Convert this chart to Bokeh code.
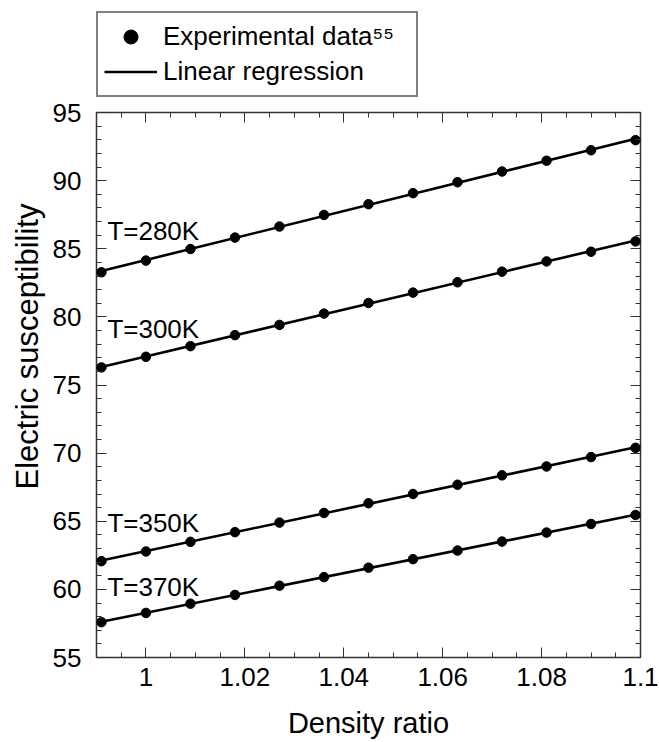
import numpy as np
from bokeh.plotting import figure
from bokeh.layouts import column
from bokeh.models import (ColumnDataSource, Legend, LegendItem, Label, LinearAxis, Title,
                          FixedTicker, CustomJSTickFormatter, Range1d)
from bokeh.embed import file_html
from bokeh.resources import INLINE

# ---- data ----
density_ratio = [0.991, 1.000, 1.009, 1.018, 1.027, 1.036, 1.045, 1.054, 1.063, 1.072, 1.081, 1.090, 1.099]
chi_280K = [83.27, 84.13, 84.98, 85.82, 86.63, 87.48, 88.27, 89.08, 89.88, 90.67, 91.46, 92.23, 92.97]
chi_300K = [76.29, 77.07, 77.85, 78.66, 79.41, 80.24, 81.02, 81.78, 82.54, 83.32, 84.07, 84.78, 85.54]
chi_350K = [62.07, 62.78, 63.49, 64.20, 64.90, 65.61, 66.32, 67.00, 67.68, 68.37, 69.02, 69.71, 70.39]
chi_370K = [57.59, 58.27, 58.95, 59.59, 60.27, 60.90, 61.59, 62.22, 62.85, 63.51, 64.17, 64.80, 65.46]
series_labels = ["T=280K", "T=300K", "T=350K", "T=370K"]
label_y = [86.3, 79.1, 64.9, 60.15]
label_x = 0.9922
x_ticks = [1.0, 1.02, 1.04, 1.06, 1.08, 1.1]
y_ticks = [55, 60, 65, 70, 75, 80, 85, 90, 95]

FONT = "Liberation Sans"
LINE_W = 2.6
DOT = 9.5

# ---------------- main plot ----------------
p = figure(width=659, height=645, output_backend="svg", toolbar_location=None,
           x_range=Range1d(0.99, 1.1), y_range=Range1d(55, 95),
           min_border_left=96, min_border_right=19, min_border_top=15, min_border_bottom=85,
           x_axis_label="Density ratio")
p.grid.visible = False
p.outline_line_color = "#333333"
p.outline_line_width = 1.5
p.background_fill_color = "white"
p.border_fill_color = "white"

x_minor = [round(v, 3) for v in np.arange(0.99, 1.1001, 0.005)]
y_minor = list(range(55, 96))

fmt = CustomJSTickFormatter(code="return String(Number(tick.toFixed(4)));")
blank = CustomJSTickFormatter(code="return '';")

def style_axis(ax, ticks, minor, formatter):
    ax.ticker = FixedTicker(ticks=ticks, minor_ticks=minor)
    ax.formatter = formatter
    ax.axis_line_color = None
    ax.major_tick_in = 10
    ax.major_tick_out = 0
    ax.minor_tick_in = 5
    ax.minor_tick_out = 0
    ax.major_tick_line_color = "#333333"
    ax.minor_tick_line_color = "#333333"
    ax.major_tick_line_width = 1
    ax.minor_tick_line_width = 1
    ax.major_label_text_font = FONT
    ax.major_label_text_font_size = "26px"
    ax.major_label_text_color = "black"
    ax.axis_label_text_font = FONT
    ax.axis_label_text_font_size = "29px"
    ax.axis_label_text_font_style = "normal"
    ax.axis_label_text_color = "black"

style_axis(p.xaxis[0], x_ticks, x_minor, fmt)
style_axis(p.yaxis[0], y_ticks, y_minor, fmt)
p.xaxis[0].major_label_standoff = 10
p.xaxis[0].axis_label_standoff = 18
p.yaxis[0].major_label_standoff = 15

top_ax = LinearAxis()
style_axis(top_ax, x_ticks, x_minor, blank)
top_ax.major_label_text_font_size = "1px"
top_ax.major_label_standoff = 0
right_ax = LinearAxis()
style_axis(right_ax, y_ticks, y_minor, blank)
right_ax.major_label_text_font_size = "1px"
p.add_layout(top_ax, "above")
p.add_layout(right_ax, "right")

p.add_layout(Title(text="Electric susceptibility", align="left", offset=168,
                   standoff=10, text_font=FONT, text_font_size="31px",
                   text_font_style="normal", text_color="black"), "left")

sources = []
for ys, lab, ly in zip([chi_280K, chi_300K, chi_350K, chi_370K], series_labels, label_y):
    src = ColumnDataSource(dict(x=density_ratio, y=ys))
    sources.append(src)
    slope, icpt = np.polyfit(density_ratio, ys, 1)
    fit_x = [density_ratio[0], density_ratio[-1]]
    fit_y = [slope * fit_x[0] + icpt, slope * fit_x[1] + icpt]
    p.line(fit_x, fit_y, line_color="black", line_width=LINE_W)
    p.scatter("x", "y", source=src, size=DOT, marker="circle",
              fill_color="black", line_color="black")
    p.add_layout(Label(x=label_x, y=ly, text=lab, text_font=FONT,
                       text_font_size="26px", text_color="black",
                       text_baseline="alphabetic"))

# ---------------- legend strip above the plot ----------------
# key renderers reuse the first series; they fall outside this strip's ranges,
# so only their legend swatches are visible
lg = figure(width=659, height=97, output_backend="svg", toolbar_location=None,
            x_range=Range1d(0, 1), y_range=Range1d(0, 1),
            x_axis_location=None, y_axis_location=None,
            min_border_left=96, min_border_right=0, min_border_top=0, min_border_bottom=0)
lg.grid.visible = False
lg.outline_line_color = None
lg.border_fill_color = "white"
lg.background_fill_color = "white"
key_dot = lg.scatter("x", "y", source=sources[0], size=DOT, marker="circle",
                     fill_color="black", line_color="black")
key_line = lg.line("x", "y", source=sources[0], line_color="black", line_width=LINE_W)

legend = Legend(items=[LegendItem(label="Experimental data\u2075\u2075", renderers=[key_dot]),
                       LegendItem(label="Linear regression", renderers=[key_line])],
                location=(0, 0), orientation="vertical",
                padding=6, spacing=0, margin=0,
                glyph_width=53, glyph_height=35, label_standoff=6, label_width=247,
                label_text_font=FONT, label_text_font_size="26px", label_text_color="black",
                border_line_color="black", border_line_width=2,
                background_fill_color="white", background_fill_alpha=1)
lg.add_layout(legend, "center")

layout = column(lg, p, spacing=0)
open("out.html", "w").write(file_html(layout, INLINE))
